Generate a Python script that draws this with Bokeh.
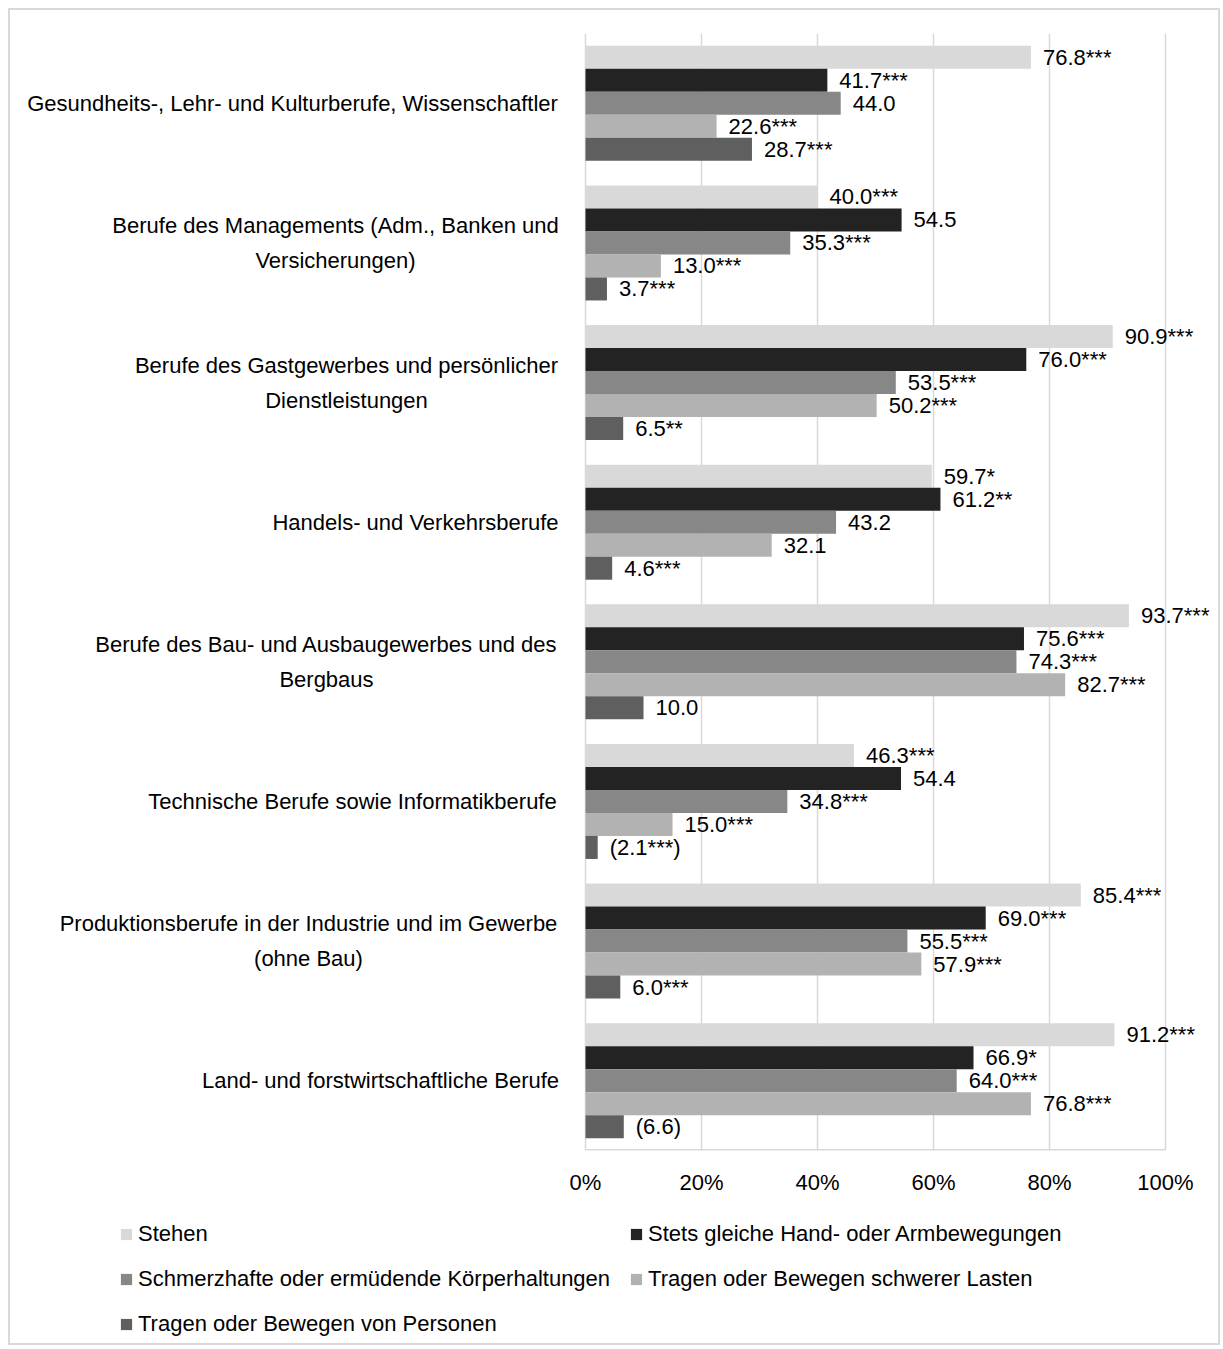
from bokeh.plotting import figure
from bokeh.layouts import column
from bokeh.models import Range1d, FixedTicker, Legend, LegendItem, PrintfTickFormatter
from bokeh.core.properties import value
from bokeh.embed import file_html
from bokeh.resources import INLINE

# ---------------- data ----------------
categories = [
    "Gesundheits-, Lehr- und Kulturberufe, Wissenschaftler",
    "Berufe des Managements (Adm., Banken und\nVersicherungen)",
    "Berufe des Gastgewerbes und persönlicher\nDienstleistungen",
    "Handels- und Verkehrsberufe",
    "Berufe des Bau- und Ausbaugewerbes und des\nBergbaus",
    "Technische Berufe sowie Informatikberufe",
    "Produktionsberufe in der Industrie und im Gewerbe\n(ohne Bau)",
    "Land- und forstwirtschaftliche Berufe",
]
series_names = [
    "Stehen",
    "Stets gleiche Hand- oder Armbewegungen",
    "Schmerzhafte oder ermüdende Körperhaltungen",
    "Tragen oder Bewegen schwerer Lasten",
    "Tragen oder Bewegen von Personen",
]
stehen = [76.8, 40.0, 90.9, 59.7, 93.7, 46.3, 85.4, 91.2]
stets = [41.7, 54.5, 76.0, 61.2, 75.6, 54.4, 69.0, 66.9]
schmerz = [44.0, 35.3, 53.5, 43.2, 74.3, 34.8, 55.5, 64.0]
lasten = [22.6, 13.0, 50.2, 32.1, 82.7, 15.0, 57.9, 76.8]
personen = [28.7, 3.7, 6.5, 4.6, 10.0, 2.1, 6.0, 6.6]

stehen_lbl = ["76.8***", "40.0***", "90.9***", "59.7*", "93.7***", "46.3***", "85.4***", "91.2***"]
stets_lbl = ["41.7***", "54.5", "76.0***", "61.2**", "75.6***", "54.4", "69.0***", "66.9*"]
schmerz_lbl = ["44.0", "35.3***", "53.5***", "43.2", "74.3***", "34.8***", "55.5***", "64.0***"]
lasten_lbl = ["22.6***", "13.0***", "50.2***", "32.1", "82.7***", "15.0***", "57.9***", "76.8***"]
personen_lbl = ["28.7***", "3.7***", "6.5**", "4.6***", "10.0", "(2.1***)", "6.0***", "(6.6)"]

x_ticks = [0, 20, 40, 60, 80, 100]

# ---------------- style / layout ----------------
colors = ["#d9d9d9", "#232323", "#878787", "#b2b2b2", "#5f5f5f"]
FONT = "Liberation Sans"
FS = "22px"

W = 1208
H1, H2 = 1205, 128
px_per_unit = 5.8          # canvas pixels per percent
zero_px = 575              # canvas x of 0%
frame_left, frame_right = 10, W - 2
x_start = (frame_left - zero_px) / px_per_unit
x_end = (frame_right - zero_px) / px_per_unit
frame_top, frame_bottom = 23, 1140

# label centres in canvas px (Excel centres multi-line category labels)
label_center_px = [282, 325, 336, 405, 316, 342, 298, 370]

n = len(categories)
bar_h = 0.1648

p = figure(width=W, height=H1, output_backend="svg", toolbar_location=None,
           x_range=Range1d(x_start, x_end), y_range=Range1d(n - 0.5, -0.5),
           min_border_left=frame_left, min_border_right=W - frame_right,
           min_border_top=frame_top, min_border_bottom=H1 - frame_bottom)
p.outline_line_color = None
p.background_fill_color = "white"
p.border_fill_color = "white"

p.yaxis.visible = False
p.ygrid.grid_line_color = None
p.xgrid.ticker = FixedTicker(ticks=x_ticks)
p.xgrid.grid_line_color = "#d9d9d9"
p.xgrid.grid_line_width = 1.5

p.xaxis.ticker = FixedTicker(ticks=x_ticks)
p.xaxis.formatter = PrintfTickFormatter(format="%d%%")
p.xaxis.axis_line_color = None
p.xaxis.major_tick_line_color = None
p.xaxis.minor_tick_line_color = None
p.xaxis.major_label_text_font = FONT
p.xaxis.major_label_text_font_size = FS
p.xaxis.major_label_text_color = "black"
p.xaxis.major_label_standoff = 13

# axis line only across 0..100
p.segment(x0=[x_ticks[0]], x1=[x_ticks[-1]], y0=[n - 0.5], y1=[n - 0.5],
          line_color="#d9d9d9", line_width=3)

all_vals = [stehen, stets, schmerz, lasten, personen]
all_lbls = [stehen_lbl, stets_lbl, schmerz_lbl, lasten_lbl, personen_lbl]
for j, (vals, lbls) in enumerate(zip(all_vals, all_lbls)):
    ys = [i + (j - 2) * bar_h for i in range(n)]
    p.hbar(y=ys, left=0, right=vals, height=bar_h, fill_color=colors[j],
           line_color=None)
    p.text(x=vals, y=ys, text=lbls, x_offset=12, text_baseline="middle",
           text_align="left", text_font=value(FONT), text_font_size=FS,
           text_color="black")

# category labels
label_x = [(c - zero_px) / px_per_unit for c in label_center_px]
p.text(x=label_x, y=list(range(n)), text=categories, text_align="center",
       text_baseline="middle", text_font=value(FONT), text_font_size=FS,
       text_color="black", text_line_height=1.4)

# ---------------- legend strip ----------------
p2 = figure(width=W, height=H2, output_backend="svg", toolbar_location=None,
            x_range=Range1d(0, 1), y_range=Range1d(0, 1),
            min_border_left=0, min_border_right=0, min_border_top=0, min_border_bottom=0)
p2.axis.visible = False
p2.grid.grid_line_color = None
p2.outline_line_color = None
p2.border_fill_color = "white"

# legend proxies: one bar per series, kept outside the visible range of the strip
leg_renderers = [p2.hbar(y=[-5], left=[0], right=[vals[0]], height=0.1, fill_color=c, line_color=None)
                 for c, vals in zip(colors, all_vals)]
legend = Legend(items=[LegendItem(label=s, renderers=[r]) for s, r in zip(series_names, leg_renderers)],
                orientation="horizontal", ncols=2, location=(99, 6),
                glyph_width=14, glyph_height=14, label_standoff=5, spacing=19,
                padding=0, margin=0, border_line_color=None, background_fill_alpha=0,
                label_text_font=FONT, label_text_font_size=FS, label_text_color="black")
p2.add_layout(legend, "center")

layout = column(p, p2, spacing=0,
                styles={"border": "2px solid #d9d9d9", "margin": "8px 0 0 8px"})

open("out.html", "w").write(file_html(layout, INLINE))
